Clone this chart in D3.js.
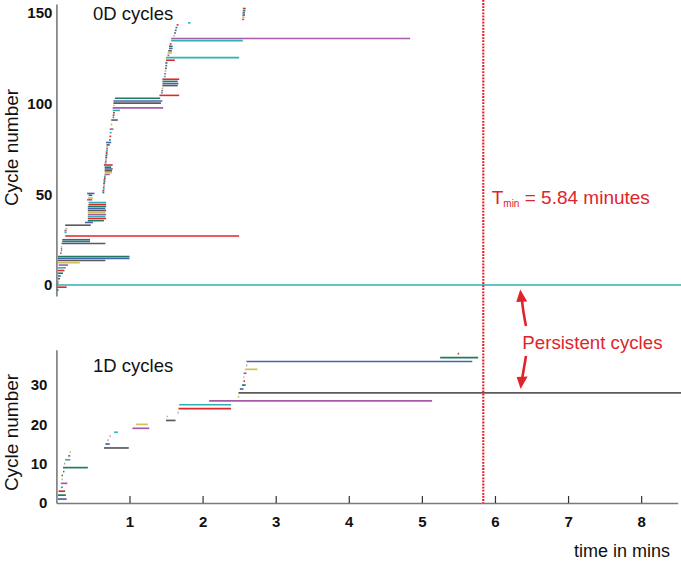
<!DOCTYPE html>
<html><head><meta charset="utf-8">
<script src="https://cdn.jsdelivr.net/npm/d3@7"></script>
<style>body{margin:0;background:#fff} svg{display:block} text{font-family:"Liberation Sans",Arial,Helvetica,sans-serif}</style>
</head><body><svg id="c" width="681" height="561"></svg>
<script>
// ---- 0D cycles (top barcode): cycle number, birth, death (minutes) ----
const topCycle = [-2.8,-1.2,0,1,2,3.5,5,6.5,8,9.5,11,12.3,13.5,14.7,15.7,17.5,19,20,21,22.9,24,25,27,29,30,31,33,34.5,35.5,36.7,37.8,38.9,40,41.1,42.2,43.3,44.4,45.5,47,48,49.5,50.5,51,52,53,54,55,56,57,58,59,60,61,62,63,64,65,66.2,67.3,68.3,69.3,70.3,71.3,72.3,73.3,74.3,75.3,76.3,77.3,78.6,80,82,84,86,88.5,91,92.5,93.7,95,96.3,97.7,99,100.3,101.5,103,104.6,106,107.2,108.5,110,111.1,112.3,113.5,115,116.5,118,119.5,121,122.5,124,125.4,126.7,128,129.2,130.5,131.7,133,134.8,136,137.5,139,140.5,142,143.5,144.6,146.5,147.7,148.9,150.1,151.3,152.5];
const topBirth = [0,0,0,0.01,0.01,0.02,0.02,0.02,0.02,0.02,0.03,0.02,0.02,0.02,0.02,0.05,0.06,0.06,0.06,0.07,0.08,0.08,0.12,0.11,0.11,0.12,0.12,0.39,0.43,0.43,0.43,0.43,0.43,0.43,0.43,0.43,0.44,0.44,0.42,0.43,0.44,0.42,0.63,0.63,0.635,0.635,0.64,0.64,0.645,0.645,0.65,0.65,0.66,0.66,0.66,0.66,0.66,0.65,0.66,0.665,0.665,0.67,0.67,0.675,0.675,0.68,0.68,0.685,0.685,0.68,0.72,0.725,0.73,0.73,0.74,0.75,0.77,0.77,0.775,0.77,0.77,0.78,0.78,0.78,0.80,1.41,1.43,1.435,1.44,1.45,1.45,1.45,1.45,1.47,1.475,1.48,1.485,1.49,1.49,1.50,1.50,1.52,1.52,1.53,1.54,1.54,1.55,1.57,1.57,1.60,1.61,1.62,1.63,1.645,1.80,2.54,2.54,2.545,2.545,2.55,2.55];
const topDeath = [0.03,0.14,Infinity,0.03,0.04,0.05,0.06,0.09,0.11,0.13,0.16,0.32,0.67,1.0,1.0,0.07,0.08,0.08,0.08,0.67,0.46,0.46,2.5,0.14,0.14,0.15,0.47,0.50,0.65,0.68,0.67,0.68,0.67,0.68,0.67,0.68,0.68,0.68,0.49,0.50,0.49,0.52,0.655,0.655,0.66,0.66,0.665,0.665,0.67,0.67,0.675,0.675,0.73,0.76,0.76,0.77,0.75,0.77,0.685,0.69,0.69,0.695,0.695,0.70,0.70,0.705,0.705,0.71,0.73,0.75,0.745,0.75,0.755,0.78,0.765,0.84,0.79,0.795,0.80,0.87,1.46,0.80,1.43,1.45,1.42,1.68,1.455,1.46,1.465,1.66,1.67,1.66,1.68,1.495,1.50,1.505,1.51,1.515,1.52,1.62,2.50,1.545,1.58,1.58,1.59,1.59,1.575,2.55,4.84,1.625,1.635,1.645,1.655,1.67,1.835,2.57,2.575,2.58,2.58,2.585,2.59];

// ---- 1D cycles (bottom barcode) ----
const botCycle = [1,2,3,4,5,6,7,8,9,10,11,12,13,14,15,16,17,18,19,20,21,22,23,24,25,26,27,28,29,30,31,32,33,34,35,36,37,38];
const botBirth = [0.02,0.02,0.03,0.06,0.06,0.07,0.07,0.09,0.09,0.11,0.12,0.16,0.18,0.65,0.67,0.70,0.73,0.79,1.04,1.09,1.50,1.51,1.66,1.67,1.68,2.09,2.48,2.49,2.51,2.54,2.56,2.56,2.56,2.58,2.60,2.60,5.25,5.49];
const botDeath = [0.14,0.13,0.12,0.09,0.15,0.09,0.09,0.11,0.43,0.12,0.19,0.19,0.20,0.99,0.73,0.71,0.74,0.84,1.27,1.25,1.63,1.52,1.67,2.39,2.39,5.14,2.50,Infinity,2.56,2.59,2.58,2.57,2.60,2.75,2.61,5.69,5.77,5.51];

const xTicks = [1,2,3,4,5,6,7,8];
const topTicks = [0,50,100,150];
const botTicks = [0,10,20,30];
const tMin = 5.84;

const palette = ["#5a5a5a","#4664ad","#1f7c5e","#e1262c","#2db2b4","#a65aa8","#cfc05a"];
const red = "#e0242b";
const W = 681, H = 561;
const font = '"Liberation Sans",Arial,Helvetica,sans-serif';

const svg = d3.select("#c");
svg.append("rect").attr("width",W).attr("height",H).attr("fill","#fff");

const x = d3.scaleLinear().domain([0,8.5]).range([56.4,677.7]);
const yT = d3.scaleLinear().domain([-6,155]).range([295.9,4]);
const yB = d3.scaleLinear().domain([0,39]).range([503,349.7]);

function bars(cyc, b, d, y, off, sw){
  svg.append("g").selectAll("line")
    .data(cyc.map((c,i)=>({c:c, b:b[i], d:d[i], i:i})))
    .join("line")
    .attr("x1", e=>x(e.b))
    .attr("x2", e=>isFinite(e.d) ? x(e.d) : W)
    .attr("y1", e=>y(e.c)).attr("y2", e=>y(e.c))
    .attr("stroke", e=>palette[(e.i+off)%7])
    .attr("stroke-width", sw);
}
bars(topCycle, topBirth, topDeath, yT, 2, 1.6);
bars(botCycle, botBirth, botDeath, yB, 1, 1.7);

function styleAxis(g){
  g.select(".domain").attr("stroke","#7a7a7a").attr("stroke-width",1.6);
  g.selectAll(".tick text").attr("font-family",font).attr("font-size",15).attr("font-weight","bold").attr("fill","#111");
}
svg.append("g").attr("transform","translate(56.4,0)")
  .call(d3.axisLeft(yT).tickValues(topTicks).tickSize(0).tickPadding(4).tickFormat(d3.format("d")))
  .call(styleAxis);
svg.append("g").attr("transform","translate(56.4,0)")
  .call(d3.axisLeft(yB).tickValues(botTicks).tickSize(0).tickPadding(9).tickFormat(d3.format("d")))
  .call(styleAxis);
const xa = svg.append("g").attr("transform","translate(0,503)")
  .call(d3.axisBottom(x).tickValues(xTicks).tickSizeInner(-7).tickSizeOuter(0).tickPadding(13).tickFormat(d3.format("d")))
  .call(styleAxis);
xa.selectAll(".tick line").attr("stroke","#333").attr("stroke-width",1.2);

// T_min dotted line
svg.append("line").attr("x1",x(tMin)).attr("x2",x(tMin)).attr("y1",0).attr("y2",503)
  .attr("stroke",red).attr("stroke-width",2.2).attr("stroke-dasharray","1.8,1.3");

// labels
svg.append("text").attr("x",93).attr("y",20).attr("font-size",18.5).attr("fill","#111").text("0D cycles");
svg.append("text").attr("x",93).attr("y",372).attr("font-size",18.5).attr("fill","#111").text("1D cycles");
svg.append("text").attr("transform","translate(18,147.5) rotate(-90)").attr("text-anchor","middle")
  .attr("font-size",19).attr("fill","#111").text("Cycle number");
svg.append("text").attr("transform","translate(18,432.5) rotate(-90)").attr("text-anchor","middle")
  .attr("font-size",19).attr("fill","#111").text("Cycle number");
svg.append("text").attr("x",670).attr("y",557).attr("text-anchor","end").attr("font-size",18).attr("fill","#111").text("time in mins");

const tl = svg.append("text").attr("x",491.7).attr("y",204).attr("fill",red).attr("font-size",19);
tl.append("tspan").text("T");
tl.append("tspan").attr("font-size",10).attr("dy",3).text("min");
tl.append("tspan").attr("dy",-3).text(" = " + tMin.toFixed(2) + " minutes");

svg.append("text").attr("x",522.3).attr("y",348.5).attr("fill",red).attr("font-size",18.7).text("Persistent cycles");

// arrows
const ax = x(6.35);
const upTip = [ax-0.3, yT(0)+4.5], dnTip = [ax+0.1, yB(28)-4];
svg.append("path").attr("d",`M526,326 Q523,311 ${upTip[0]+1.8},${upTip[1]+11}`).attr("fill","none").attr("stroke",red).attr("stroke-width",2.6);
svg.append("path").attr("d",`M${upTip[0]},${upTip[1]} L${upTip[0]+7},${upTip[1]+12} L${upTip[0]-4},${upTip[1]+12.6} Z`).attr("fill",red);
svg.append("path").attr("d",`M526,356 Q523.5,371 ${dnTip[0]+1.6},${dnTip[1]-11}`).attr("fill","none").attr("stroke",red).attr("stroke-width",2.6);
svg.append("path").attr("d",`M${dnTip[0]},${dnTip[1]} L${dnTip[0]+7},${dnTip[1]-12.4} L${dnTip[0]-4},${dnTip[1]-12} Z`).attr("fill",red);
</script></body></html>
